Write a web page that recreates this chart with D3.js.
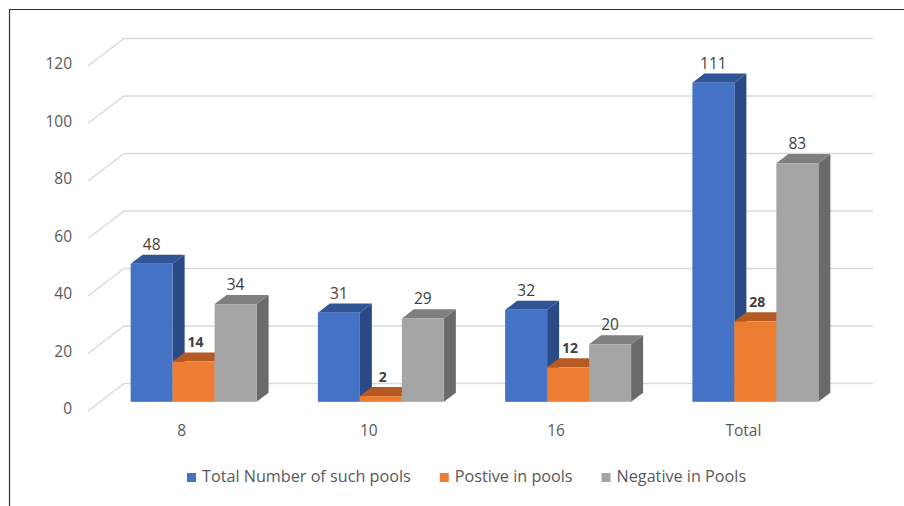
<!DOCTYPE html>
<html><head><meta charset="utf-8">
<script src="https://cdn.jsdelivr.net/npm/d3@7"></script>
<style>body{margin:0;background:#fff}svg{display:block}</style>
</head><body>
<svg id="c" width="904" height="506"></svg>
<script>
const categories = ["8", "10", "16", "Total"];
const seriesNames = ["Total Number of such pools", "Postive in pools", "Negative in Pools"];
const totalPools = [48, 31, 32, 111];
const positivePools = [14, 2, 12, 28];
const negativePools = [34, 29, 20, 83];
const yTicks = [0, 20, 40, 60, 80, 100, 120];

const seriesValues = [totalPools, positivePools, negativePools];
const colors = [
  {front:"#4472C4", top:"#2F5597", side:"#2A4A85"},
  {front:"#ED7D31", top:"#B55A22", side:"#A9541E"},
  {front:"#A5A5A5", top:"#7F7F7F", side:"#6A6A6A"}
];

const svg = d3.select("#c");
const font = "'Open Sans', 'Noto Sans', sans-serif";
const DX = 36, DY = 27.5;           // full depth of the 3D wall
const y = d3.scaleLinear().domain([0,120]).range([411, 66]);
const x = d3.scaleBand().domain(categories).range([88, 837]).padding(0);
const xs = d3.scaleBand().domain(d3.range(3)).range([0, x.bandwidth()]).paddingInner(0).paddingOuter(0.73);

// border
svg.append("path").attr("d","M9.5,506V9.5H904").attr("fill","none").attr("stroke","#333").attr("stroke-width",1.2);

// gridlines
yTicks.forEach(v => {
  const yf = y(v);
  svg.append("polyline")
    .attr("points", `88,${yf} ${88+DX},${yf-DY} ${837+DX},${yf-DY}`)
    .attr("fill","none").attr("stroke","#D9D9D9").attr("stroke-width",1.3);
  svg.append("text").attr("x",72).attr("y",yf-1).attr("text-anchor","end")
    .attr("dominant-baseline","middle").attr("font-family",font).attr("font-size",15.5)
    .attr("fill","#595959").text(v);
});

// category labels
categories.forEach(c => {
  svg.append("text").attr("x", x(c)+x.bandwidth()/2).attr("y",432)
    .attr("text-anchor","middle").attr("dominant-baseline","middle")
    .attr("font-family",font).attr("font-size",15.5).attr("fill","#595959").text(c);
});

// bars
const t0 = 1/3, bd = 1/3;
const ox = DX*t0, oy = DY*t0, bx = DX*bd, by = DY*bd;
categories.forEach((c, ci) => {
  seriesValues.forEach((vals, si) => {
    const v = vals[ci];
    const x0 = x(c) + xs(si) + ox, x1 = x0 + xs.bandwidth();
    const yt = y(v) - oy, yb = y(0) - oy;
    const col = colors[si];
    svg.append("polygon").attr("points", `${x1},${yt} ${x1+bx},${yt-by} ${x1+bx},${yb-by} ${x1},${yb}`).attr("fill", col.side);
    svg.append("polygon").attr("points", `${x0},${yt} ${x1},${yt} ${x1+bx},${yt-by} ${x0+bx},${yt-by}`).attr("fill", col.top);
    svg.append("rect").attr("x",x0).attr("y",yt).attr("width",x1-x0).attr("height",yb-yt).attr("fill",col.front);
  });
});
// labels on top
categories.forEach((c, ci) => {
  seriesValues.forEach((vals, si) => {
    const v = vals[ci];
    const x0 = x(c) + xs(si) + ox;
    const yt = y(v) - oy;
    svg.append("text").attr("x", x0 + xs.bandwidth()/2 + (si===1?2:0)).attr("y", yt - by - 5)
      .attr("text-anchor","middle").attr("font-family",font)
      .attr("font-size", si===1?14:15.5).attr("font-weight", si===1?"bold":"normal")
      .attr("fill", "#404040").text(v);
  });
});

// legend
let lx = 187;
seriesNames.forEach((n, i) => {
  svg.append("rect").attr("x",lx).attr("y",473).attr("width",9).attr("height",9).attr("fill",colors[i].front);
  const t = svg.append("text").attr("x",lx+15).attr("y",477.5).attr("dominant-baseline","middle")
    .attr("font-family",font).attr("font-size",16.2).attr("fill","#595959").text(n);
  lx += 15 + t.node().getComputedTextLength() + 29;
});
</script>
</body></html>
